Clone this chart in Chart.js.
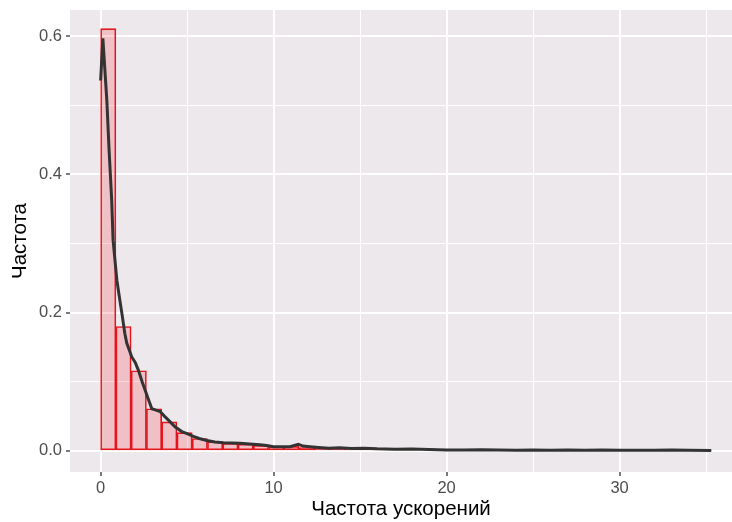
<!DOCTYPE html>
<html>
<head>
<meta charset="utf-8">
<script src="https://cdn.jsdelivr.net/npm/chart.js@4.4.0/dist/chart.umd.min.js"></script>
<style>
  html, body { margin: 0; padding: 0; background: #ffffff; overflow: hidden; }
  #wrap { width: 732px; height: 522px; }
</style>
</head>
<body>
<div id="wrap"><canvas id="chart" width="732" height="522"></canvas></div>
<script>
// histogram: bin width and density per bin, starting at 0
const binWidth = 0.8825;
const binHeights = [
    0.611, 0.180, 0.116, 0.061, 0.042, 0.0265, 0.018, 0.0135, 0.011, 0.0097,
    0.008, 0.006, 0.0065, 0.005, 0.004, 0.004, 0.0035, 0.003, 0.003, 0.0025,
    0.0022, 0.002, 0.0018, 0.0015, 0.0015, 0.0012, 0.0012, 0.001, 0.001, 0.001,
    0.001, 0.001, 0.0009, 0.0009, 0.0009, 0.0008, 0.0008, 0.0008, 0.0008, 0.0008
];

// kernel density curve
const densX = [
    0, 0.13, 0.36, 0.49, 0.64, 0.72, 0.94, 1.1, 1.23, 1.4,
    1.51, 1.8, 2.0, 2.18, 2.4, 2.57, 2.8, 2.96, 3.2, 3.44,
    3.7, 4.02, 4.3, 4.69, 5.0, 5.36, 5.7, 6.14, 6.6, 7.1,
    7.6, 8.06, 8.6, 9.21, 9.6, 9.99, 10.5, 10.95, 11.2, 11.43,
    11.7, 12.1, 12.6, 13.2, 13.8, 14.5, 15.2, 16, 17, 18,
    19, 20, 21, 22, 23, 24, 25, 26, 27, 28,
    29, 30, 31, 32, 33, 34, 35.3
];
const densY = [
    0.536, 0.597, 0.507, 0.435, 0.363, 0.305, 0.247, 0.22, 0.199, 0.17,
    0.156, 0.136, 0.128, 0.117, 0.1, 0.088, 0.072, 0.061, 0.059, 0.057,
    0.05, 0.042, 0.035, 0.028, 0.025, 0.021, 0.018, 0.015, 0.013, 0.012,
    0.0115, 0.011, 0.01, 0.009, 0.008, 0.006, 0.006, 0.006, 0.008, 0.0097,
    0.007, 0.006, 0.005, 0.004, 0.0045, 0.0035, 0.004, 0.003, 0.0025, 0.0028,
    0.002, 0.0012, 0.0015, 0.0018, 0.0015, 0.001, 0.0012, 0.0008, 0.0012, 0.001,
    0.0013, 0.0009, 0.0011, 0.0008, 0.0012, 0.0009, 0.0006
];

// axis ticks (major get labels, minor only grid lines)
const xMajor = [0, 10, 20, 30];
const xMinor = [5, 15, 25, 35];
const yMajor = [0, 0.2, 0.4, 0.6];
const yMinor = [0.1, 0.3, 0.5];

const xTitle = 'Частота ускорений';
const yTitle = 'Частота';

const panelColor = '#ece8ec';
const tickTextColor = '#4d4d4d';

const histPoints = binHeights.map((h, i) => ({ x: binWidth * (i + 0.5), y: h }));
const densPoints = densX.map((x, i) => ({ x: x, y: densY[i] }));

const isMajor = (list, v) => list.some(m => Math.abs(m - v) < 1e-9);
const tickIsMajor = (list, c) => !!(c && c.tick) && isMajor(list, c.tick.value);

const panelBackground = {
    id: 'panelBackground',
    beforeDraw(chart) {
        const { ctx, chartArea } = chart;
        ctx.save();
        ctx.fillStyle = panelColor;
        ctx.fillRect(chartArea.left, chartArea.top, chartArea.right - chartArea.left, chartArea.bottom - chartArea.top);
        ctx.restore();
    }
};

const ctx = document.getElementById('chart').getContext('2d');
new Chart(ctx, {
    data: {
        datasets: [
            {
                type: 'line',
                data: densPoints,
                borderColor: '#333333',
                borderWidth: 3,
                pointRadius: 0,
                tension: 0,
                fill: false,
                order: 0
            },
            {
                type: 'bar',
                data: histPoints,
                backgroundColor: 'rgba(255, 40, 50, 0.2)',
                borderColor: '#e0141c',
                borderWidth: 1,
                borderSkipped: false,
                categoryPercentage: 1.0,
                barPercentage: 1.0,
                order: 1
            }
        ]
    },
    options: {
        responsive: false,
        animation: false,
        devicePixelRatio: 1,
        layout: { padding: { top: 10, right: 0, left: 0, bottom: 0 } },
        plugins: {
            legend: { display: false },
            tooltip: { enabled: false }
        },
        scales: {
            x: {
                type: 'linear',
                position: 'bottom',
                offset: false,
                min: -1.77,
                max: 36.5,
                afterBuildTicks: (scale) => {
                    scale.ticks = xMajor.concat(xMinor).sort((a, b) => a - b).map(v => ({ value: v }));
                },
                afterFit: (scale) => {
                    scale.height = 50;
                    scale.paddingLeft = 0;
                    scale.paddingRight = 0;
                },
                ticks: {
                    autoSkip: false,
                    maxRotation: 0,
                    padding: 3,
                    color: tickTextColor,
                    font: { family: 'Liberation Sans, Arial, sans-serif', size: 16.5 },
                    callback: (v) => isMajor(xMajor, v) ? String(v) : ''
                },
                grid: {
                    offset: false,
                    color: '#ffffff',
                    lineWidth: (c) => tickIsMajor(xMajor, c) ? 2 : 1.1,
                    tickLength: 4,
                    tickWidth: 1.3,
                    tickColor: (c) => tickIsMajor(xMajor, c) ? '#333333' : 'rgba(0,0,0,0)'
                },
                border: { display: false },
                title: {
                    display: true,
                    text: xTitle,
                    color: '#000000',
                    font: { family: 'Liberation Sans, Arial, sans-serif', size: 20.5 },
                    padding: { top: 0, bottom: 0 }
                }
            },
            y: {
                type: 'linear',
                position: 'left',
                min: -0.0305,
                max: 0.638,
                afterBuildTicks: (scale) => {
                    scale.ticks = yMajor.concat(yMinor).sort((a, b) => a - b).map(v => ({ value: v }));
                },
                afterFit: (scale) => {
                    scale.width = 70;
                    scale.paddingTop = 0;
                    scale.paddingBottom = 0;
                },
                ticks: {
                    autoSkip: false,
                    padding: 4,
                    color: tickTextColor,
                    font: { family: 'Liberation Sans, Arial, sans-serif', size: 16.5 },
                    callback: (v) => isMajor(yMajor, v) ? v.toFixed(1) : ''
                },
                grid: {
                    color: '#ffffff',
                    lineWidth: (c) => tickIsMajor(yMajor, c) ? 2 : 1.1,
                    tickLength: 4,
                    tickWidth: 1.3,
                    tickColor: (c) => tickIsMajor(yMajor, c) ? '#333333' : 'rgba(0,0,0,0)'
                },
                border: { display: false },
                title: {
                    display: true,
                    text: yTitle,
                    color: '#000000',
                    font: { family: 'Liberation Sans, Arial, sans-serif', size: 20.5 },
                    padding: { top: 8, bottom: 0 }
                }
            }
        }
    },
    plugins: [panelBackground]
});
</script>
</body>
</html>
